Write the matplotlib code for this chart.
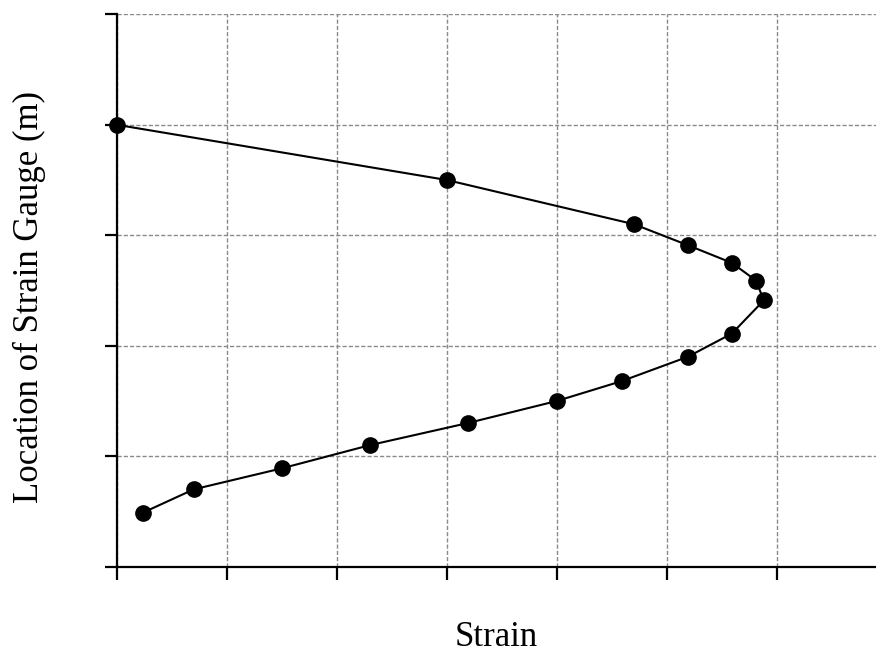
import matplotlib
matplotlib.use("Agg")
import matplotlib.pyplot as plt

# Data (axis units; no tick labels shown)
strain = [0.24, 0.70, 1.50, 2.30, 3.19, 4.00, 4.59, 5.19, 5.59, 5.88, 5.81, 5.59, 5.19, 4.70, 3.00, 0.00]
location = [0.49, 0.70, 0.89, 1.10, 1.30, 1.50, 1.68, 1.90, 2.11, 2.41, 2.59, 2.75, 2.91, 3.10, 3.50, 4.00]
x_ticks = [0, 1, 2, 3, 4, 5, 6]
y_ticks = [0, 1, 2, 3, 4, 5]

plt.rcParams['font.family'] = ['Liberation Serif', 'DejaVu Serif']

fig = plt.figure(figsize=(8.76, 6.55), dpi=100)
ax = fig.add_axes([0.1332, 0.1348, 0.8668, 0.8434])

ax.plot(strain, location, color='black', linewidth=1.5, marker='o',
        markersize=11, markerfacecolor='black', markeredgecolor='black',
        zorder=3, clip_on=False)

ax.set_xlim(0, 6.9)
ax.set_ylim(0, 5)
ax.set_xticks(x_ticks)
ax.set_yticks(y_ticks)
ax.set_xticklabels([])
ax.set_yticklabels([])

ax.grid(True, color='#8a8a8a', linestyle=(0, (3, 1.5)), linewidth=1.0)
ax.set_axisbelow(True)

for side in ['top', 'right']:
    ax.spines[side].set_visible(False)
for side in ['left', 'bottom']:
    ax.spines[side].set_linewidth(1.6)
    ax.spines[side].set_color('black')

ax.tick_params(axis='both', direction='out', length=9, width=1.6, color='black')

ax.set_xlabel('Strain', fontsize=25)
ax.xaxis.label.set_va('baseline')
ax.xaxis.set_label_coords(0.5, -0.1436)

ax.set_ylabel('Location of Strain Gauge (m)', fontsize=25)
ax.yaxis.label.set_va('center')
ax.yaxis.set_label_coords(-0.1155, 0.489)

fig.savefig('out.png', dpi=100)
